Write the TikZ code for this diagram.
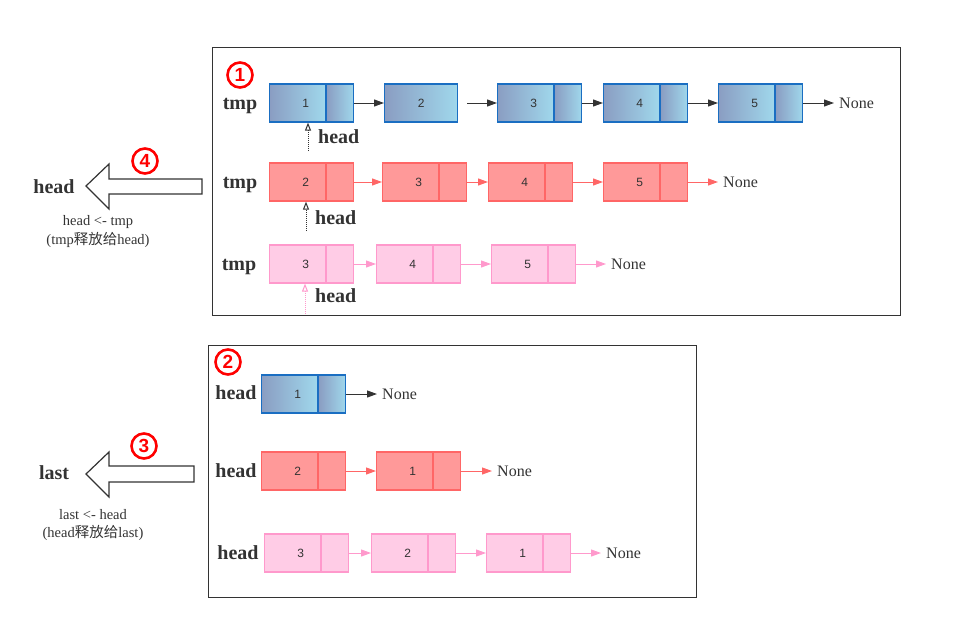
\documentclass[tikz,border=0pt]{standalone}
\usepackage{fontspec}
\setmainfont{Liberation Serif}
\newfontfamily\numfont{Liberation Sans}
\newfontfamily\cjk{Noto Sans CJK SC}
\usetikzlibrary{arrows.meta,positioning}
\definecolor{blueline}{HTML}{1A6EC2}
\definecolor{bluedark}{HTML}{8A9DC2}
\definecolor{bluelight}{HTML}{A0D8EC}
\definecolor{redline}{HTML}{FF6666}
\definecolor{redfill}{HTML}{FF9999}
\definecolor{pinkline}{HTML}{FF99CC}
\definecolor{pinkfill}{HTML}{FFCCE6}
\definecolor{textgray}{HTML}{333333}
\tikzset{
  cell/.style={minimum height=38pt, inner sep=0pt, line width=1.2pt, anchor=west,
    font=\numfont\fontsize{12}{12}\selectfont, text=textgray},
  bluecell/.style={cell, draw=blueline, left color=bluedark, right color=bluelight},
  redcell/.style={cell, draw=redline, fill=redfill},
  pinkcell/.style={cell, draw=pinkline, fill=pinkfill},
  datapart/.style={minimum width=56pt},
  nextpart/.style={minimum width=27pt},
  numtext/.style={xshift=8pt, inner sep=0pt, font=\numfont\fontsize{12}{12}\selectfont, text=textgray},
  link/.style={-{Triangle[length=10pt,width=7pt]}, line width=1pt},
  headptr/.style={densely dotted, line width=1pt, -{Triangle[open,length=8pt,width=6pt]}},
  varlabel/.style={font=\bfseries\fontsize{20}{20}\selectfont, text=textgray, inner sep=1pt,
    text height=13pt, text depth=0pt},
  nonelabel/.style={font=\fontsize{16}{16}\selectfont, text=textgray, anchor=west, inner sep=5pt},
  caption/.style={font=\fontsize{14.5}{17}\selectfont, text=textgray, inner sep=0pt},
  badge/.style={circle, draw=red, line width=2.6pt, text=red, minimum size=25pt, inner sep=0pt,
    font=\numfont\bfseries\fontsize{19}{19}\selectfont},
  frame/.style={draw=textgray, line width=1pt},
  bigarrow/.style={draw=textgray, fill=white, line width=1.2pt, line join=miter}
}
% one list element: data part and next part
\newcommand{\listcell}[5]{%
  \node[#5, datapart, label={[numtext]center:#4}] (#1) at (#2,#3) {};
  \node[#5, nextpart, right=0pt of #1] (#1n) {};}
\begin{document}
\begin{tikzpicture}[x=1pt, y=-1pt]
\useasboundingbox (0,0) rectangle (968,626);
% frames
\draw[frame] (212,48) rectangle (900,315);
\draw[frame] (208,345) rectangle (696,597);
\node[badge] (b1) at (240,75) {1};
\node[badge] (b2) at (228,362) {2};

% box 1, row 1
\node[varlabel] (tmp1) at (240,103) {tmp};
\listcell{t1}{269}{103}{1}{bluecell}
\node[bluecell, minimum width=73pt] (t2) at (384,103) {2};
\listcell{t3}{497}{103}{3}{bluecell}
\listcell{t4}{603}{103}{4}{bluecell}
\listcell{t5}{718}{103}{5}{bluecell}
\node[nonelabel] (t6) at (834,103) {None};
\coordinate (t2x) at (467,103);
\draw[link, textgray] (t1n) -- (t2);
\draw[link, textgray] (t2x) -- (t3);
\draw[link, textgray] (t3n) -- (t4);
\draw[link, textgray] (t4n) -- (t5);
\draw[link, textgray] (t5n) -- (t6.west);
\coordinate (h1) at (308,151);
\draw[headptr, textgray] (h1) -- (h1 |- t1.south);
\node[varlabel, anchor=west] (hl1) at (317,137) {head};

% box 1, row 2
\node[varlabel] (tmp2) at (240,182) {tmp};
\listcell{r2}{269}{182}{2}{redcell}
\listcell{r3}{382}{182}{3}{redcell}
\listcell{r4}{488}{182}{4}{redcell}
\listcell{r5}{603}{182}{5}{redcell}
\node[nonelabel] (r6) at (718,182) {None};
\draw[link, redline] (r2n) -- (r3);
\draw[link, redline] (r3n) -- (r4);
\draw[link, redline] (r4n) -- (r5);
\draw[link, redline] (r5n) -- (r6.west);
\coordinate (h2) at (306,231);
\draw[headptr, textgray] (h2) -- (h2 |- r2.south);
\node[varlabel, anchor=west] (hl2) at (314,218) {head};

% box 1, row 3
\node[varlabel] (tmp3) at (239,264) {tmp};
\listcell{p3}{269}{264}{3}{pinkcell}
\listcell{p4}{376}{264}{4}{pinkcell}
\listcell{p5}{491}{264}{5}{pinkcell}
\node[nonelabel] (p6) at (606,264) {None};
\draw[link, pinkline] (p3n) -- (p4);
\draw[link, pinkline] (p4n) -- (p5);
\draw[link, pinkline] (p5n) -- (p6.west);
\coordinate (h3) at (305,314);
\draw[headptr, pinkline] (h3) -- (h3 |- p3.south);
\node[varlabel, anchor=west] (hl3) at (314,296) {head};

% box 2, row 1
\node[varlabel] (hd1) at (236,393) {head};
\listcell{a1}{261}{394}{1}{bluecell}
\node[nonelabel] (a2) at (377,394) {None};
\draw[link, textgray] (a1n) -- (a2.west);

% box 2, row 2
\node[varlabel] (hd2) at (236,471) {head};
\listcell{c2}{261}{471}{2}{redcell}
\listcell{c1}{376}{471}{1}{redcell}
\node[nonelabel] (c0) at (492,471) {None};
\draw[link, redline] (c2n) -- (c1);
\draw[link, redline] (c1n) -- (c0.west);

% box 2, row 3
\node[varlabel] (hd3) at (238,553) {head};
\listcell{e3}{264}{553}{3}{pinkcell}
\listcell{e2}{371}{553}{2}{pinkcell}
\listcell{e1}{486}{553}{1}{pinkcell}
\node[nonelabel] (e0) at (601,553) {None};
\draw[link, pinkline] (e3n) -- (e2);
\draw[link, pinkline] (e2n) -- (e1);
\draw[link, pinkline] (e1n) -- (e0.west);

% step 4: tmp to head
\draw[bigarrow] (202,179) -- (109,179) -- (109,164) -- (86,186) -- (109,209) -- (109,194) -- (202,194) -- cycle;
\node[badge] (b4) at (145,161) {4};
\node[varlabel] (hv) at (54,187) {head};
\node[caption] (cap4a) at (98,222) {head <- tmp};
\node[caption] (cap4b) at (98,240) {(tmp{\cjk 释放给}head)};

% step 3: head to last
\draw[bigarrow] (194,466) -- (109,466) -- (109,452) -- (86,474) -- (109,497) -- (109,482) -- (194,482) -- cycle;
\node[badge] (b3) at (144,446) {3};
\node[varlabel] (lv) at (54,473) {last};
\node[caption] (cap3a) at (93,515) {last <- head};
\node[caption] (cap3b) at (93,533) {(head{\cjk 释放给}last)};
\end{tikzpicture}
\end{document}
